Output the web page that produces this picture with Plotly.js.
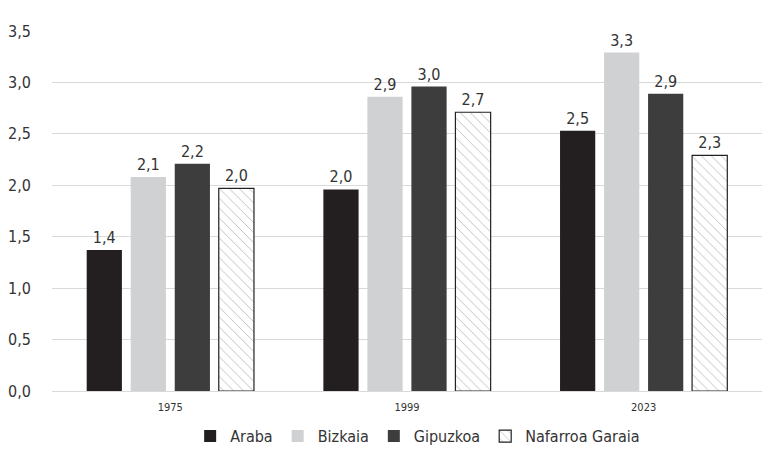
<!DOCTYPE html>
<html><head><meta charset="utf-8">
<script src="https://cdn.plot.ly/plotly-3.0.1.min.js"></script>
<style>html,body{margin:0;padding:0;background:#fff;}</style>
</head><body>
<div id="chart" style="width:772px;height:462px;"></div>
<script>
const years = ["1975", "1999", "2023"];
const araba = [1.37, 1.96, 2.53];
const bizkaia = [2.08, 2.86, 3.29];
const gipuzkoa = [2.21, 2.96, 2.89];
const nafarroa = [1.97, 2.71, 2.29];
const seriesNames = ["Araba", "Bizkaia", "Gipuzkoa", "Nafarroa Garaia"];
const yTicks = [0, 0.5, 1, 1.5, 2, 2.5, 3, 3.5];

const FONT = "'DejaVu Sans Condensed', sans-serif";

function bar(name, vals, color, extra) {
  return {
    type: "bar", name: name, x: years, y: vals,
    marker: Object.assign({color: color, line: {width: 0}}, extra || {}),
    texttemplate: "%{y:.1f}", textposition: "outside",
    textfont: {family: FONT, size: 16, color: "#333"},
    cliponaxis: false
  };
}
const data = [
  bar(seriesNames[0], araba, "#231f20"),
  bar(seriesNames[1], bizkaia, "#d0d1d3"),
  bar(seriesNames[2], gipuzkoa, "#3d3d3d"),
  bar(seriesNames[3], nafarroa, "#ffffff", {
    line: {color: "#222", width: 1.2},
    pattern: {shape: "\\", fgcolor: "#b8b8b8", bgcolor: "#ffffff", size: 7, solidity: 0.12}
  })
];
const layout = {
  width: 772, height: 462,
  margin: {l: 52, r: 10, t: 31, b: 71, autoexpand: false},
  paper_bgcolor: "#fff", plot_bgcolor: "#fff",
  separators: ",.",
  font: {family: FONT, size: 16, color: "#333"},
  barmode: "group", bargap: 0.256, bargroupgap: 0.2,
  showlegend: true,
  legend: {orientation: "h", x: 0.515, xanchor: "center", yref: "container", y: 0.056, yanchor: "middle",
           font: {family: FONT, size: 16, color: "#333"}, traceorder: "normal", itemwidth: 30},
  xaxis: {
    showgrid: false, showline: true, linecolor: "#d9d9d9", linewidth: 1,
    ticks: "", ticklabelstandoff: 6, tickfont: {family: FONT, size: 11, color: "#333"}
  },
  yaxis: {
    range: [0, 3.5], tickvals: yTicks, tickformat: ".1f",
    showgrid: true, gridcolor: "#d9d9d9", gridwidth: 1,
    zeroline: false, showline: false, ticks: "",
    ticklabelstandoff: 20,
    tickfont: {family: FONT, size: 16, color: "#333"}
  }
};
Plotly.newPlot("chart", data, layout, {displayModeBar: false, staticPlot: true});
</script>
</body></html>
